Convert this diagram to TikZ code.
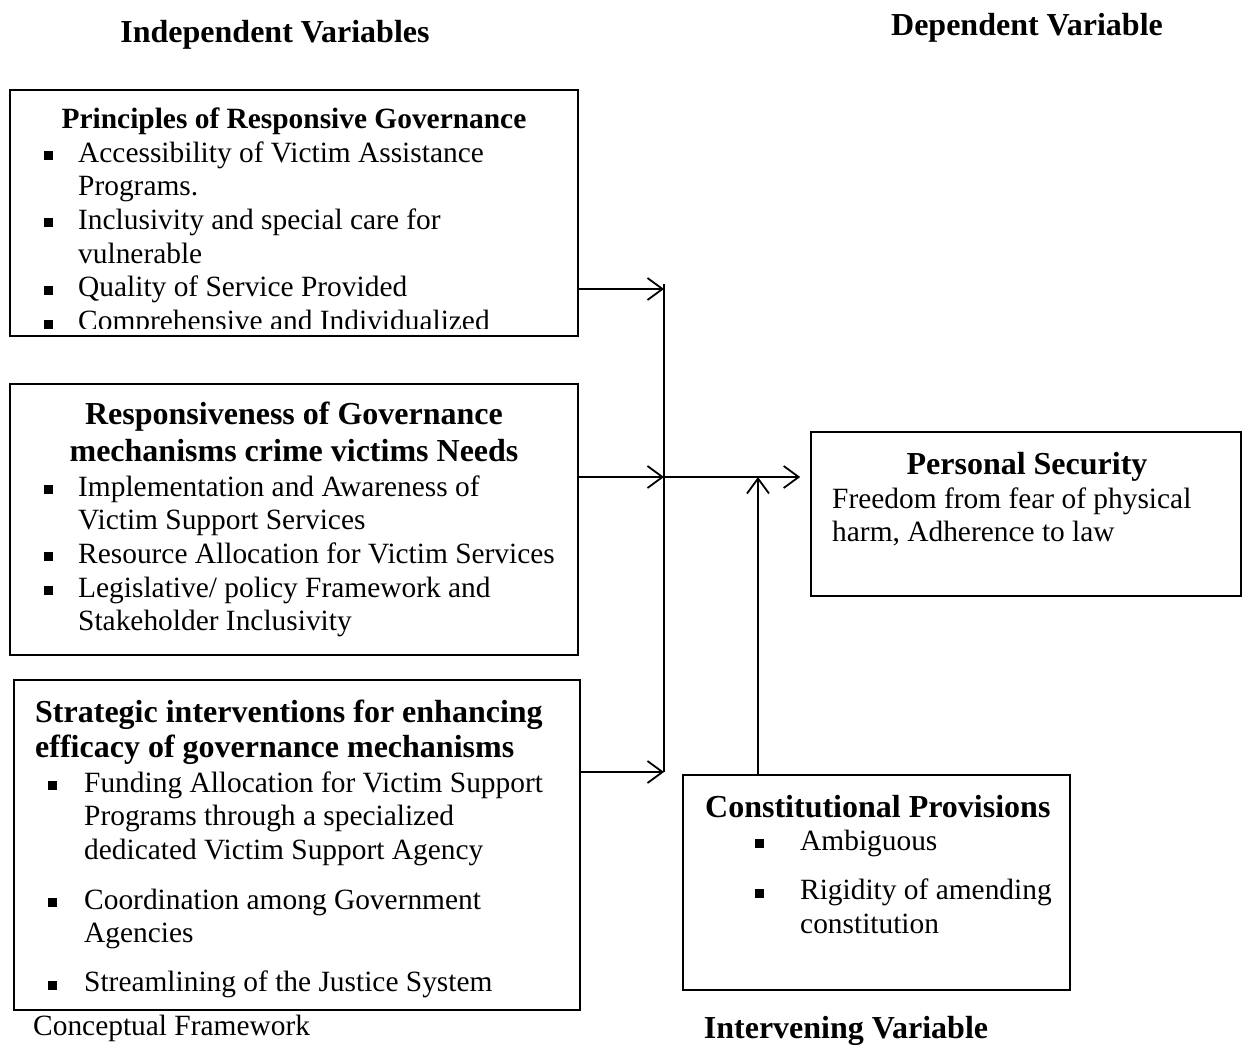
\documentclass[tikz,border=0pt]{standalone}
\usepackage{fontspec}
\setmainfont{Liberation Serif}
\usetikzlibrary{arrows.meta}
\newcommand{\bsq}{\rule[2pt]{9pt}{9pt}}
\begin{document}
\begin{tikzpicture}[x=1pt,y=-1pt,
  boxn/.style={draw, line width=1.6pt, inner sep=0pt, rectangle},
  body/.style={inner sep=0pt, font=\fontsize{29.4}{33.7}\selectfont, align=left},
  hd/.style={inner sep=0pt, font=\fontsize{32}{36}\selectfont\bfseries},
  arr/.style={line width=1.8pt, -{Straight Barb[length=15pt,width=22pt,line width=1.8pt]}},
  ln/.style={line width=1.8pt}]
\useasboundingbox (0,0) rectangle (1242,1047);

% headers
\node[hd, anchor=base] (hind) at (275,42) {Independent Variables};
\node[hd, anchor=base] (hdep) at (1027,35) {Dependent Variable};
\node[hd, anchor=base] (hint) at (846,1038) {Intervening Variable};
\node[body, anchor=base west] (cap) at (33,1035) {Conceptual Framework};

% boxes
\node[boxn, minimum width=568pt, minimum height=246pt] (b1) at (294,213) {};
\node[boxn, minimum width=568pt, minimum height=271pt] (b2) at (294,519.5) {};
\node[boxn, minimum width=566pt, minimum height=330pt] (b3) at (297,845) {};
\node[boxn, minimum width=430pt, minimum height=164pt] (b4) at (1026,514) {};
\node[boxn, minimum width=387pt, minimum height=215pt] (b5) at (876.5,882.5) {};

% box 1 text
\node[hd, font=\fontsize{29.4}{34}\selectfont\bfseries, anchor=base] (t1h) at (294,128) {Principles of Responsive Governance};
\begin{scope}
\clip (12,92) rectangle (576,328);
\node[body, anchor=base west] (t1) at (44,162) {\begin{tabular}[t]{@{}p{34pt}@{}l@{}}
\bsq & Accessibility of Victim Assistance\\
 & Programs.\\
\bsq & Inclusivity and special care for\\
 & vulnerable\\
\bsq & Quality of Service Provided\\
\bsq & Comprehensive and Individualized
\end{tabular}};
\end{scope}

% box 2 text
\node[hd, anchor=base] (t2h) at (294,424) {\begin{tabular}[t]{@{}c@{}}Responsiveness of Governance\\[1pt] mechanisms crime victims Needs\end{tabular}};
\node[body, anchor=base west] (t2) at (44,496) {\begin{tabular}[t]{@{}p{34pt}@{}l@{}}
\bsq & Implementation and Awareness of\\
 & Victim Support Services\\
\bsq & Resource Allocation for Victim Services\\
\bsq & Legislative/ policy Framework and\\
 & Stakeholder Inclusivity
\end{tabular}};

% box 3 text
\node[hd, anchor=base west] (t3h) at (35,722) {\begin{tabular}[t]{@{}l@{}}Strategic interventions for enhancing\\[-1pt] efficacy of governance mechanisms\end{tabular}};
\node[body, anchor=base west] (t3) at (48,792) {\begin{tabular}[t]{@{}p{36pt}@{}l@{}}
\bsq & Funding Allocation for Victim Support\\
 & Programs through a specialized\\
 & dedicated Victim Support Agency\\[16pt]
\bsq & Coordination among Government\\
 & Agencies\\[15pt]
\bsq & Streamlining of the Justice System
\end{tabular}};

% box 4 text
\node[hd, anchor=base] (t4h) at (1027,474) {Personal Security};
\node[body, anchor=base west] (t4) at (832,508) {\begin{tabular}[t]{@{}l@{}}
Freedom from fear of physical\\
harm, Adherence to law
\end{tabular}};

% box 5 text
\node[hd, anchor=base west] (t5h) at (705,817) {Constitutional Provisions};
\node[body, anchor=base west] (t5) at (755,850) {\begin{tabular}[t]{@{}p{45pt}@{}l@{}}
\bsq & Ambiguous\\[16pt]
\bsq & Rigidity of amending\\
 & constitution
\end{tabular}};

% connectors
\coordinate (v1) at (664,289);
\coordinate (v2) at (664,477);
\coordinate (v3) at (664,772);
\coordinate (vtop) at (664,284);
\coordinate (up) at (758,477);
\draw[ln] (vtop) -- (v3);
\draw[arr] (b1.east |- v1) -- (v1);
\draw[arr] (b2.east |- v2) -- (v2);
\draw[arr] (b3.east |- v3) -- (v3);
\draw[arr] (v2) -- ([xshift=-10pt]b4.west |- v2);
\draw[arr] (b5.north -| up) -- (up);
\end{tikzpicture}
\end{document}
